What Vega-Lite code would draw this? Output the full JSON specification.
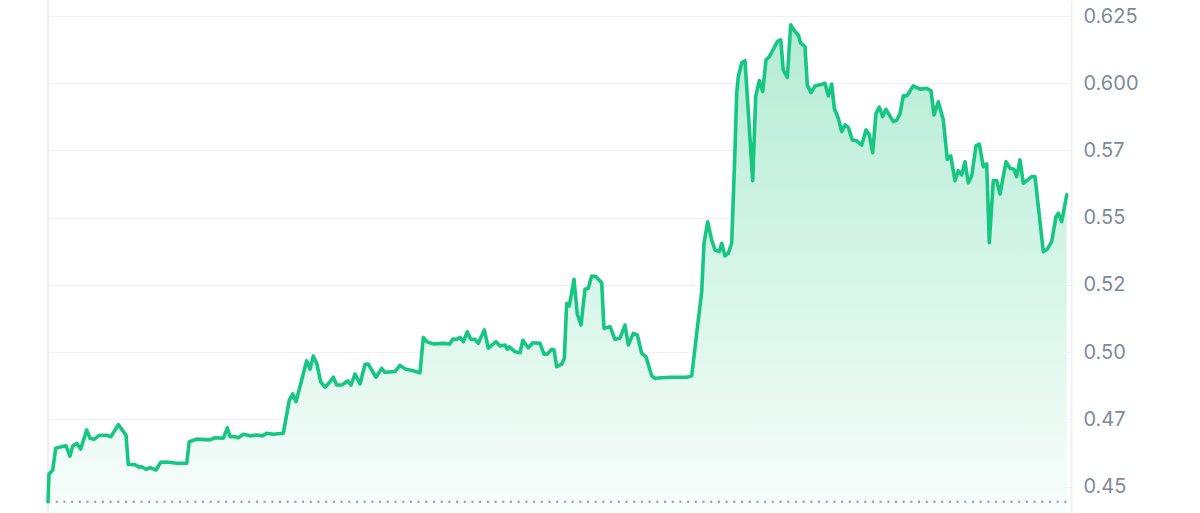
{
  "$schema": "https://vega.github.io/schema/vega-lite/v6.json",
  "width": 1023,
  "height": 513,
  "autosize": "none",
  "padding": {"left": 48, "right": 129, "top": 0, "bottom": 0},
  "background": "#ffffff",
  "data": {
    "values": [
      {"t": 0, "p": 0.4444}, {"t": 1, "p": 0.4547}, {"t": 4.7, "p": 0.4562}, {"t": 7.7, "p": 0.4643},
      {"t": 13.7, "p": 0.4649}, {"t": 18, "p": 0.4652}, {"t": 22, "p": 0.4614}, {"t": 24.7, "p": 0.4651},
      {"t": 28.7, "p": 0.4661}, {"t": 32.7, "p": 0.464}, {"t": 38.7, "p": 0.4711}, {"t": 42, "p": 0.468},
      {"t": 46, "p": 0.4676}, {"t": 51.3, "p": 0.4691}, {"t": 58.7, "p": 0.4691}, {"t": 63, "p": 0.4686},
      {"t": 70.3, "p": 0.4731}, {"t": 78, "p": 0.4692}, {"t": 80.3, "p": 0.4583}, {"t": 87, "p": 0.4582},
      {"t": 91.3, "p": 0.4572}, {"t": 93.7, "p": 0.4574}, {"t": 98, "p": 0.4565}, {"t": 102, "p": 0.4571},
      {"t": 108, "p": 0.4562}, {"t": 112.7, "p": 0.4591}, {"t": 118.7, "p": 0.4592}, {"t": 128.7, "p": 0.4587},
      {"t": 138.7, "p": 0.4587}, {"t": 141.3, "p": 0.4667}, {"t": 148.7, "p": 0.4677}, {"t": 162, "p": 0.4674},
      {"t": 167, "p": 0.4682}, {"t": 175.3, "p": 0.468}, {"t": 179.3, "p": 0.4719}, {"t": 182, "p": 0.4686},
      {"t": 187, "p": 0.4686}, {"t": 190.3, "p": 0.4682}, {"t": 195.3, "p": 0.4695}, {"t": 202, "p": 0.4689},
      {"t": 208.7, "p": 0.4692}, {"t": 214.7, "p": 0.4689}, {"t": 218.7, "p": 0.4699}, {"t": 225.3, "p": 0.4695},
      {"t": 235.3, "p": 0.4699}, {"t": 241.3, "p": 0.4822}, {"t": 244.7, "p": 0.4845}, {"t": 248, "p": 0.4816},
      {"t": 258.7, "p": 0.4968}, {"t": 262, "p": 0.4937}, {"t": 265.3, "p": 0.4986}, {"t": 268.7, "p": 0.4959},
      {"t": 272.7, "p": 0.489}, {"t": 277, "p": 0.487}, {"t": 281.3, "p": 0.4887}, {"t": 285.3, "p": 0.4907},
      {"t": 288.7, "p": 0.4878}, {"t": 293.7, "p": 0.4878}, {"t": 299.7, "p": 0.4893}, {"t": 303, "p": 0.4878},
      {"t": 307, "p": 0.4919}, {"t": 312, "p": 0.4882}, {"t": 317, "p": 0.4955}, {"t": 320.3, "p": 0.4956},
      {"t": 328, "p": 0.4907}, {"t": 333.7, "p": 0.494}, {"t": 337, "p": 0.4925}, {"t": 347, "p": 0.4928},
      {"t": 352, "p": 0.4951}, {"t": 357, "p": 0.4938}, {"t": 365.3, "p": 0.4931}, {"t": 372, "p": 0.4924},
      {"t": 375.3, "p": 0.5055}, {"t": 378.7, "p": 0.5039}, {"t": 385.3, "p": 0.5031}, {"t": 395.3, "p": 0.5033},
      {"t": 402, "p": 0.5031}, {"t": 404.7, "p": 0.5049}, {"t": 408.7, "p": 0.5048}, {"t": 412, "p": 0.5055},
      {"t": 415.3, "p": 0.5039}, {"t": 419.3, "p": 0.5076}, {"t": 422.7, "p": 0.5048}, {"t": 427, "p": 0.5048},
      {"t": 430.3, "p": 0.5033}, {"t": 436.3, "p": 0.5083}, {"t": 440.3, "p": 0.5015}, {"t": 448, "p": 0.5039},
      {"t": 452, "p": 0.5023}, {"t": 457, "p": 0.5027}, {"t": 459.3, "p": 0.5011}, {"t": 461.3, "p": 0.502},
      {"t": 467, "p": 0.5002}, {"t": 472, "p": 0.4998}, {"t": 474.8, "p": 0.5044}, {"t": 480.3, "p": 0.5016},
      {"t": 484.7, "p": 0.5035}, {"t": 492, "p": 0.5033}, {"t": 496, "p": 0.4993}, {"t": 499.3, "p": 0.4993},
      {"t": 503.7, "p": 0.5011}, {"t": 506, "p": 0.5008}, {"t": 508.7, "p": 0.4946}, {"t": 513.7, "p": 0.4956},
      {"t": 516.3, "p": 0.4977}, {"t": 518.7, "p": 0.5182}, {"t": 521.3, "p": 0.5172}, {"t": 526, "p": 0.5271},
      {"t": 529.3, "p": 0.5142}, {"t": 533, "p": 0.5101}, {"t": 537, "p": 0.5234}, {"t": 540.3, "p": 0.5238},
      {"t": 543.7, "p": 0.5283}, {"t": 548, "p": 0.5281}, {"t": 553.7, "p": 0.5258}, {"t": 556, "p": 0.5089},
      {"t": 562, "p": 0.5095}, {"t": 567, "p": 0.5048}, {"t": 572, "p": 0.5052}, {"t": 577, "p": 0.5101},
      {"t": 580.3, "p": 0.5027}, {"t": 585.3, "p": 0.507}, {"t": 589.3, "p": 0.5064}, {"t": 593.7, "p": 0.4996},
      {"t": 598, "p": 0.4983}, {"t": 603.7, "p": 0.4912}, {"t": 607, "p": 0.4903}, {"t": 622, "p": 0.4907},
      {"t": 638.7, "p": 0.4907}, {"t": 643.7, "p": 0.4912}, {"t": 648.7, "p": 0.507}, {"t": 653.7, "p": 0.5225},
      {"t": 656, "p": 0.5405}, {"t": 659.7, "p": 0.5485}, {"t": 663.7, "p": 0.5417}, {"t": 667, "p": 0.538},
      {"t": 671.3, "p": 0.5374}, {"t": 673.7, "p": 0.5405}, {"t": 677, "p": 0.5358}, {"t": 680.3, "p": 0.5368},
      {"t": 683.7, "p": 0.5405}, {"t": 687, "p": 0.5752}, {"t": 688.7, "p": 0.5963}, {"t": 690.3, "p": 0.6024},
      {"t": 693.7, "p": 0.6076}, {"t": 697, "p": 0.6084}, {"t": 704.7, "p": 0.5638}, {"t": 707.7, "p": 0.595},
      {"t": 711.3, "p": 0.601}, {"t": 714.7, "p": 0.5969}, {"t": 718, "p": 0.6086}, {"t": 721.3, "p": 0.6099},
      {"t": 725.3, "p": 0.6126}, {"t": 729.3, "p": 0.6155}, {"t": 732.7, "p": 0.6161}, {"t": 735.3, "p": 0.6049},
      {"t": 739.3, "p": 0.6022}, {"t": 742.7, "p": 0.6217}, {"t": 747, "p": 0.6192}, {"t": 750.3, "p": 0.6179},
      {"t": 752.7, "p": 0.6149}, {"t": 757, "p": 0.6136}, {"t": 759.3, "p": 0.5994}, {"t": 763, "p": 0.5965},
      {"t": 767, "p": 0.599}, {"t": 772, "p": 0.5994}, {"t": 777, "p": 0.6}, {"t": 780.3, "p": 0.5953},
      {"t": 783.7, "p": 0.5997}, {"t": 786.3, "p": 0.5907}, {"t": 790.3, "p": 0.587}, {"t": 793.7, "p": 0.582},
      {"t": 797, "p": 0.5845}, {"t": 800.3, "p": 0.5836}, {"t": 804.3, "p": 0.5789}, {"t": 808.7, "p": 0.5786},
      {"t": 813.7, "p": 0.577}, {"t": 818, "p": 0.5826}, {"t": 821.3, "p": 0.5808}, {"t": 824.7, "p": 0.5742},
      {"t": 828, "p": 0.5888}, {"t": 831.3, "p": 0.5911}, {"t": 834.7, "p": 0.5876}, {"t": 838, "p": 0.5903},
      {"t": 845.3, "p": 0.5857}, {"t": 848.7, "p": 0.5863}, {"t": 852, "p": 0.5886}, {"t": 855.3, "p": 0.5953},
      {"t": 858.7, "p": 0.5953}, {"t": 865.3, "p": 0.599}, {"t": 872, "p": 0.5978}, {"t": 878.7, "p": 0.5981},
      {"t": 883, "p": 0.5972}, {"t": 886, "p": 0.5882}, {"t": 890.3, "p": 0.5931}, {"t": 895.3, "p": 0.5863},
      {"t": 899.3, "p": 0.5717}, {"t": 902.7, "p": 0.573}, {"t": 907, "p": 0.5638}, {"t": 910.3, "p": 0.5675},
      {"t": 913.7, "p": 0.5659}, {"t": 917, "p": 0.5708}, {"t": 920.3, "p": 0.563}, {"t": 923.7, "p": 0.5655},
      {"t": 928, "p": 0.5767}, {"t": 931.3, "p": 0.5774}, {"t": 935.3, "p": 0.569}, {"t": 938.7, "p": 0.57},
      {"t": 941.3, "p": 0.5407}, {"t": 945.3, "p": 0.5638}, {"t": 948.7, "p": 0.5638}, {"t": 952, "p": 0.5588},
      {"t": 958, "p": 0.5708}, {"t": 962, "p": 0.5684}, {"t": 966, "p": 0.568}, {"t": 968.7, "p": 0.5653},
      {"t": 972, "p": 0.5715}, {"t": 975.3, "p": 0.5628}, {"t": 983.7, "p": 0.5653}, {"t": 987, "p": 0.5653},
      {"t": 995.3, "p": 0.5374}, {"t": 999.3, "p": 0.5383}, {"t": 1003.7, "p": 0.5411}, {"t": 1008, "p": 0.5504},
      {"t": 1010.3, "p": 0.5517}, {"t": 1013.7, "p": 0.5485}, {"t": 1018.7, "p": 0.5585}
    ]
  },
  "encoding": {
    "x": {"field": "t", "type": "quantitative", "axis": null, "scale": {"domain": [0, 1023], "nice": false}},
    "y": {
      "field": "p",
      "type": "quantitative",
      "scale": {"domain": [0.44022, 0.63095], "nice": false, "zero": false},
      "axis": {
        "orient": "right",
        "title": null,
        "values": [0.45, 0.475, 0.5, 0.525, 0.55, 0.575, 0.6, 0.625],
        "labelExpr": "datum.value > 0.59 ? format(datum.value, '.3f') : format(floor(datum.value * 100 + 0.000001) / 100, '.2f')",
        "grid": true,
        "gridColor": "#eff2f5",
        "gridWidth": 1,
        "domain": true,
        "domainColor": "#eff2f5",
        "domainWidth": 2,
        "ticks": false,
        "labelPadding": 12,
        "labelFont": "Inter",
        "labelFontSize": 20,
        "labelColor": "#808a9d"
      }
    }
  },
  "layer": [
    {
      "mark": {
        "type": "area",
        "interpolate": "linear",
        "fill": {
          "gradient": "linear",
          "x1": 0, "y1": 1, "x2": 0, "y2": 0,
          "stops": [
            {"offset": 0, "color": "#f8fdfb"},
            {"offset": 0.5, "color": "#d5f5e8"},
            {"offset": 1, "color": "#b4ebd5"}
          ]
        }
      },
      "encoding": {"y2": {"datum": 0.44022}}
    },
    {
      "mark": {"type": "rule", "color": "#eceef1", "strokeWidth": 2},
      "encoding": {"x": {"datum": 0}, "y": null}
    },
    {
      "mark": {"type": "rule", "color": "#8f95a3", "strokeWidth": 2, "strokeDash": [2, 5.7]},
      "encoding": {
        "y": {"aggregate": "min", "field": "p", "type": "quantitative"},
        "x": {"aggregate": "min", "field": "t", "type": "quantitative"},
        "x2": {"aggregate": "max", "field": "t"}
      }
    },
    {
      "mark": {"type": "line", "color": "#16c784", "strokeWidth": 3.6, "strokeJoin": "round", "strokeCap": "round"}
    }
  ],
  "config": {
    "view": {"stroke": null}
  }
}
